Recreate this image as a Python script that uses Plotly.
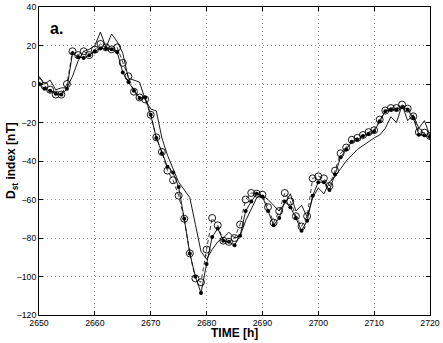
import plotly.graph_objects as go

# hourly time axis [h]
hours = list(range(2650, 2721))

# thin solid line (no markers)
dst_thin = [
    4, 0, 2, -3, -2, -2, 4, 12, 17, 18,
    20, 27, 19, 26, 22, 16, 3, 2, 1, -8,
    -13, -14, -28, -37, -44, -51, -55, -59, -73, -87,
    -91, -86, -82, -80, -77, -80, -79, -71, -65, -59,
    -58, -60, -63, -66, -62, -57, -66, -63, -69, -59,
    -54, -57, -51, -48, -44, -40, -37, -34, -32, -30,
    -28, -26.5, -23, -17, -20, -11, -19, -16, -23, -19,
    -27,
]

# solid line with filled dots
dst_dots = [
    0, -2.5, -3.5, -5, -5.5, -2.5, 16, 14, 13.5, 15,
    17, 18.5, 18.5, 18, 16.5, 6, 1, -3.5, -7.3, -7,
    -16, -28, -36, -43, -46, -53.5, -70, -88, -100, -108.6,
    -93.5, -79.5, -75, -81.4, -82, -83.8, -78.8, -66, -61, -57,
    -58.4, -66, -73.4, -69.6, -61, -64, -69.6, -76.2, -71, -58,
    -51, -51, -55, -47, -38, -34, -30, -29, -27, -26,
    -24.6, -19.4, -14.2, -13.3, -13.3, -12.1, -13.3, -17.7, -26.3, -26.6,
    -27.5,
]

# dashed line with open circles
dst_circles = [
    1, -1, -3, -5.5, -5.5, 0, 17, 15, 17, 15,
    17.8, 20.8, 19, 18, 19, 11, 4, -4, -7, -8,
    -16, -27.7, -35.3, -45, -50, -58, -70, -88, -101, -103,
    -86, -69.6, -73.4, -81.4, -82, -80, -73, -60, -56.6, -57,
    -57.5, -64, -72, -66, -56.6, -61, -68.7, -74, -68.7, -49,
    -48, -49, -53, -45, -36, -33, -29, -28, -26.5, -25,
    -24, -18.5, -13.8, -12.5, -12.5, -10.7, -12.8, -16.8, -25, -25.3,
    -27,
]

x_ticks = list(range(2650, 2721, 10))
y_ticks = list(range(-120, 41, 20))

FONT = "Liberation Sans, Arial, Helvetica, sans-serif"
GRID_COLOR = "#9a9a9a"

fig = go.Figure()

fig.add_trace(go.Scatter(
    x=hours, y=dst_thin, mode="lines",
    line=dict(color="black", width=0.9),
    showlegend=False,
))

fig.add_trace(go.Scatter(
    x=hours, y=dst_dots, mode="lines+markers",
    line=dict(color="black", width=0.9),
    marker=dict(color="black", size=4, symbol="circle"),
    showlegend=False,
))

fig.add_trace(go.Scatter(
    x=hours, y=dst_circles, mode="lines+markers",
    line=dict(color="black", width=0.8, dash="4px,3px"),
    marker=dict(color="black", size=7, symbol="circle-open", line=dict(width=0.9)),
    showlegend=False,
))

fig.add_annotation(
    x=2653.2, y=29, xref="x", yref="y",
    text="<b>a.</b>", showarrow=False,
    font=dict(size=16, color="black", family=FONT),
)

# axis titles placed by hand (MATLAB-like positions)
fig.add_annotation(
    x=0.5, y=-0.057, xref="paper", yref="paper",
    xanchor="center", yanchor="middle", borderpad=0,
    text="<b>TIME [h]</b>", showarrow=False,
    font=dict(size=12, color="black", family=FONT),
)
fig.add_annotation(
    x=-0.069, y=0.5, xref="paper", yref="paper",
    xanchor="center", yanchor="middle", textangle=-90,
    text="<b>D<sub>st</sub> index [nT]</b>", showarrow=False,
    font=dict(size=12, color="black", family=FONT),
)

axis_common = dict(
    showline=True, linecolor="black", linewidth=1,
    mirror="ticks", ticks="inside", ticklen=4, tickcolor="black",
    showgrid=True, gridcolor=GRID_COLOR, griddash="1px,3px", gridwidth=1,
    zeroline=False, automargin=False,
    tickfont=dict(size=8.7, color="black", family=FONT),
)

fig.update_layout(
    width=443, height=343,
    margin=dict(l=39, r=13, t=7, b=28),
    paper_bgcolor="white", plot_bgcolor="white",
    font=dict(family=FONT, color="black"),
    xaxis=dict(**axis_common, range=[2650, 2720], tickvals=x_ticks, ticklabelstandoff=0),
    yaxis=dict(**axis_common, range=[-120, 40], tickvals=y_ticks),
)

# drop the default 8px page margin so the figure fills the window exactly
fig.write_html(
    "out.html",
    config={"displayModeBar": False},
    post_script="document.body.style.margin='0';document.body.style.overflow='hidden';",
)
